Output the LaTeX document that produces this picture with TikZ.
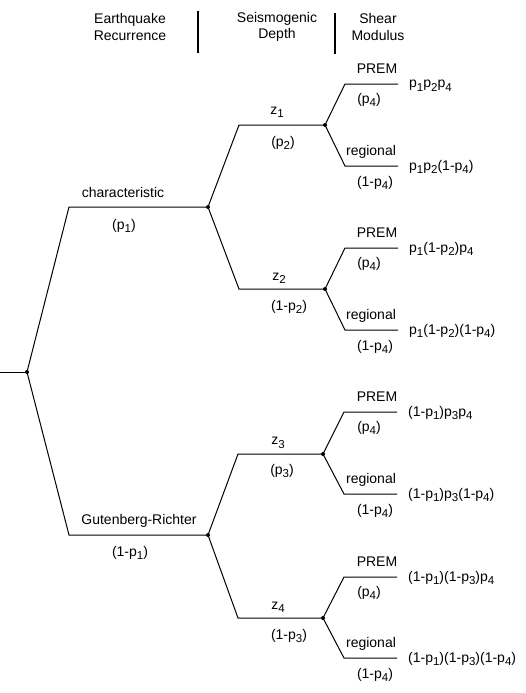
\documentclass[tikz,border=0pt]{standalone}
\usepackage{fontspec}
\setmainfont{Liberation Sans}
\newcommand\sbx[1]{\raisebox{-0.45ex}{\fontsize{11.5}{12}\selectfont #1}}
\begin{document}
\begin{tikzpicture}[x=1pt,y=-1pt,
  every node/.style={inner sep=0pt, font=\fontsize{14}{16.5}\selectfont},
  branch/.style={line width=1pt},
  bar/.style={line width=1.3pt},
  dot/.style={circle, fill, inner sep=0pt, minimum size=4pt},
  res/.style={anchor=base west}]
\useasboundingbox (0,0) rectangle (525,693);
% header
\node[align=center] (h1) at (130,27) {Earthquake\\Recurrence};
\node[align=center] (h2) at (277,27) {Seismogenic\\Depth};
\node[align=center] (h3) at (378,27) {Shear\\Modulus};
\coordinate (b1t) at (198,11); \coordinate (b1b) at (198,53);
\coordinate (b2t) at (335,13); \coordinate (b2b) at (335,54);
\draw[bar] (b1t) -- (b1b);
\draw[bar] (b2t) -- (b2b);
% root
\coordinate (r0) at (0,372); \coordinate (r) at (27,372);
\coordinate (c1s) at (69,207); \coordinate (c1) at (208,207);
\coordinate (g1s) at (69,535); \coordinate (g1) at (208,535);
\draw[branch] (r0) -- (r);
\draw[branch] (r) -- (c1s) -- (c1);
\draw[branch] (r) -- (g1s) -- (g1);
\node (lc) at (123,192) {characteristic};
\node (lcp) at (124,226) {(p\sbx{1})};
\node (lg) at (139,521) {Gutenberg-Richter};
\node (lgp) at (130,553) {(1-p\sbx{1})};
% level 2
\coordinate (z1s) at (239,125); \coordinate (z1) at (325,125);
\coordinate (z2s) at (239,289); \coordinate (z2) at (325,289);
\coordinate (z3s) at (238,454); \coordinate (z3) at (323,454);
\coordinate (z4s) at (238,618); \coordinate (z4) at (323,618);
\draw[branch] (c1) -- (z1s) -- (z1);
\draw[branch] (c1) -- (z2s) -- (z2);
\draw[branch] (g1) -- (z3s) -- (z3);
\draw[branch] (g1) -- (z4s) -- (z4);
\node (lz1) at (277,112) {z\sbx{1}};
\node (lz1p) at (283,143) {(p\sbx{2})};
\node (lz2) at (279,278) {z\sbx{2}};
\node (lz2p) at (289,307) {(1-p\sbx{2})};
\node (lz3) at (278,443) {z\sbx{3}};
\node (lz3p) at (282,471) {(p\sbx{3})};
\node (lz4) at (278,607) {z\sbx{4}};
\node (lz4p) at (289,636) {(1-p\sbx{3})};
% level 3
\coordinate (p1s) at (345,84);  \coordinate (p1e) at (398,84);
\coordinate (q1s) at (345,166); \coordinate (q1e) at (398,166);
\coordinate (p2s) at (345,248); \coordinate (p2e) at (398,248);
\coordinate (q2s) at (345,330); \coordinate (q2e) at (398,330);
\coordinate (p3s) at (344,412); \coordinate (p3e) at (397,412);
\coordinate (q3s) at (344,494); \coordinate (q3e) at (397,494);
\coordinate (p4s) at (344,577); \coordinate (p4e) at (397,577);
\coordinate (q4s) at (344,658); \coordinate (q4e) at (397,658);
\foreach \i in {1,2,3,4}{
  \draw[branch] (z\i) -- (p\i s) -- (p\i e);
  \draw[branch] (z\i) -- (q\i s) -- (q\i e);
}
\foreach \i/\y in {1/84,2/248,3/412,4/577}{
  \node (lp\i) at (377,\y-15) {PREM};
  \node (lpp\i) at (369,\y+16) {(p\sbx{4})};
}
\foreach \i/\y in {1/166,2/330,3/494,4/658}{
  \node (lq\i) at (371,\y-14) {regional};
  \node (lqp\i) at (375,\y+17) {(1-p\sbx{4})};
}
% results
\node[res] (o1) at (409,88)  {p\sbx{1}p\sbx{2}p\sbx{4}};
\node[res] (o2) at (409,170) {p\sbx{1}p\sbx{2}(1-p\sbx{4})};
\node[res] (o3) at (409,252) {p\sbx{1}(1-p\sbx{2})p\sbx{4}};
\node[res] (o4) at (409,334) {p\sbx{1}(1-p\sbx{2})(1-p\sbx{4})};
\node[res] (o5) at (408,416) {(1-p\sbx{1})p\sbx{3}p\sbx{4}};
\node[res] (o6) at (408,498) {(1-p\sbx{1})p\sbx{3}(1-p\sbx{4})};
\node[res] (o7) at (408,581) {(1-p\sbx{1})(1-p\sbx{3})p\sbx{4}};
\node[res] (o8) at (408,662) {(1-p\sbx{1})(1-p\sbx{3})(1-p\sbx{4})};
% dots
\foreach \n in {r,c1,g1,z1,z2,z3,z4}{ \node[dot] at (\n) {}; }
\end{tikzpicture}
\end{document}
